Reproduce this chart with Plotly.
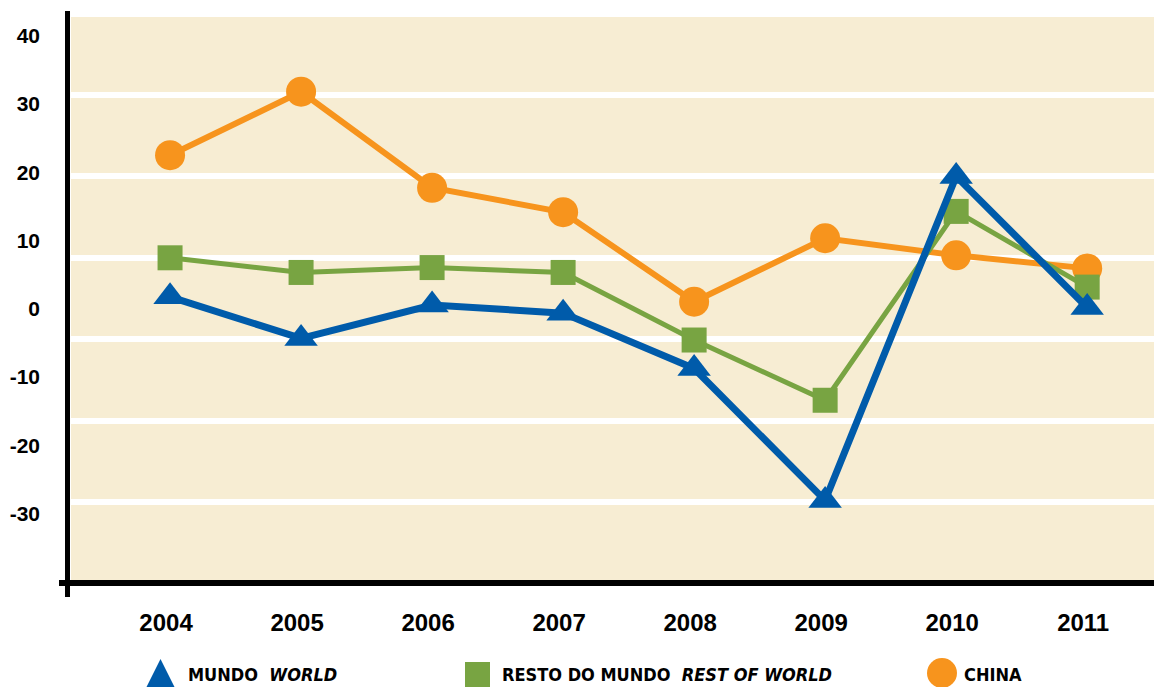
import plotly.graph_objects as go

# Export growth (%) by year
years = ["2004", "2005", "2006", "2007", "2008", "2009", "2010", "2011"]
mundo = [5.2, 0.1, 4.2, 3.2, -3.6, -19.8, 20.0, 3.9]
resto_mundo = [10.0, 8.2, 8.8, 8.2, -0.1, -7.5, 15.7, 6.4]
china = [22.6, 30.4, 18.6, 15.6, 4.6, 12.4, 10.3, 8.7]

# y-axis tick labels
y_labels = ["40", "30", "20", "10", "0", "-10", "-20", "-30"]
grid_values = [-20, -10, 0, 10, 20, 30]

# legend entries
legend_names = ["MUNDO  <i>WORLD</i>", "RESTO DO MUNDO  <i>REST OF WORLD</i>", "CHINA"]

BLUE = "#005BAA"
GREEN = "#78A442"
ORANGE = "#F7941D"
BEIGE = "#F7EDD3"

W, H = 1154, 687


def px_x(p):
    return p / W


def px_y(p):
    return 1 - p / H


# y labels sit on an evenly spaced ladder, slightly tighter than the grid
label_top, label_step = 37.3, 8.39
y_label_vals = [label_top - label_step * i for i in range(len(y_labels))]

fig = go.Figure()

fig.add_trace(go.Scatter(
    x=years, y=china, mode="lines+markers", name="CHINA",
    line=dict(color=ORANGE, width=6),
    marker=dict(symbol="circle", size=30, color=ORANGE),
    showlegend=False,
))
fig.add_trace(go.Scatter(
    x=years, y=resto_mundo, mode="lines+markers", name="RESTO DO MUNDO",
    line=dict(color=GREEN, width=5),
    marker=dict(symbol="square", size=25, color=GREEN),
    showlegend=False,
))
fig.add_trace(go.Scatter(
    x=years, y=mundo, mode="lines+markers", name="MUNDO",
    line=dict(color=BLUE, width=7),
    marker=dict(symbol="triangle-up", size=29, color=BLUE),
    showlegend=False,
))

shapes = [
    # vertical axis line
    dict(type="line", xref="paper", yref="paper",
         x0=px_x(67.5), x1=px_x(67.5), y0=px_y(597), y1=px_y(11),
         line=dict(color="black", width=5), layer="above"),
    # horizontal axis line
    dict(type="line", xref="paper", yref="paper",
         x0=px_x(59), x1=1, y0=px_y(583), y1=px_y(583),
         line=dict(color="black", width=6), layer="above"),
    # legend symbols
    dict(type="path", xref="paper", yref="paper",
         xsizemode="pixel", ysizemode="pixel",
         xanchor=px_x(160.5), yanchor=px_y(673),
         path="M -14,-14 L 14,-14 L 0,14 Z",
         fillcolor=BLUE, line=dict(width=0)),
    dict(type="rect", xref="paper", yref="paper",
         xsizemode="pixel", ysizemode="pixel",
         xanchor=px_x(477.5), yanchor=px_y(674.5),
         x0=-12.5, x1=12.5, y0=-12.5, y1=12.5,
         fillcolor=GREEN, line=dict(width=0)),
    dict(type="circle", xref="paper", yref="paper",
         xsizemode="pixel", ysizemode="pixel",
         xanchor=px_x(942), yanchor=px_y(673),
         x0=-15, x1=15, y0=-15, y1=15,
         fillcolor=ORANGE, line=dict(width=0)),
]

legend_x = [186, 500, 962]
annotations = [
    dict(text=t, xref="paper", yref="paper", x=px_x(lx), y=px_y(674),
         xanchor="left", yanchor="middle", showarrow=False,
         font=dict(family="DejaVu Sans Condensed, Roboto, Liberation Sans",
                   size=18, color="black", weight="bold"))
    for t, lx in zip(legend_names, legend_x)
]

fig.update_layout(
    width=W, height=H,
    margin=dict(l=0, r=0, t=0, b=0),
    paper_bgcolor="white",
    plot_bgcolor=BEIGE,
    showlegend=False,
    shapes=shapes,
    annotations=annotations,
    xaxis=dict(
        domain=[px_x(71), 1],
        type="category",
        range=[-0.756, 7.51],
        showgrid=False, zeroline=False, showline=False,
        ticks="", ticklabelstandoff=26, ticklabelshift=-4,
        tickfont=dict(family="Liberation Sans", size=24, color="black", weight="bold"),
    ),
    yaxis=dict(
        domain=[px_y(580), px_y(17)],
        range=[-29.58, 39.58],
        showgrid=False, zeroline=False, showline=False,
        tickmode="array", tickvals=y_label_vals, ticktext=y_labels,
        ticks="", ticklabelstandoff=30,
        tickfont=dict(family="Liberation Sans", size=21, color="black", weight="bold"),
        minor=dict(tickmode="array", tickvals=grid_values, showgrid=True,
                   gridcolor="white", gridwidth=6, ticks=""),
    ),
)

fig.write_html("out.html")
